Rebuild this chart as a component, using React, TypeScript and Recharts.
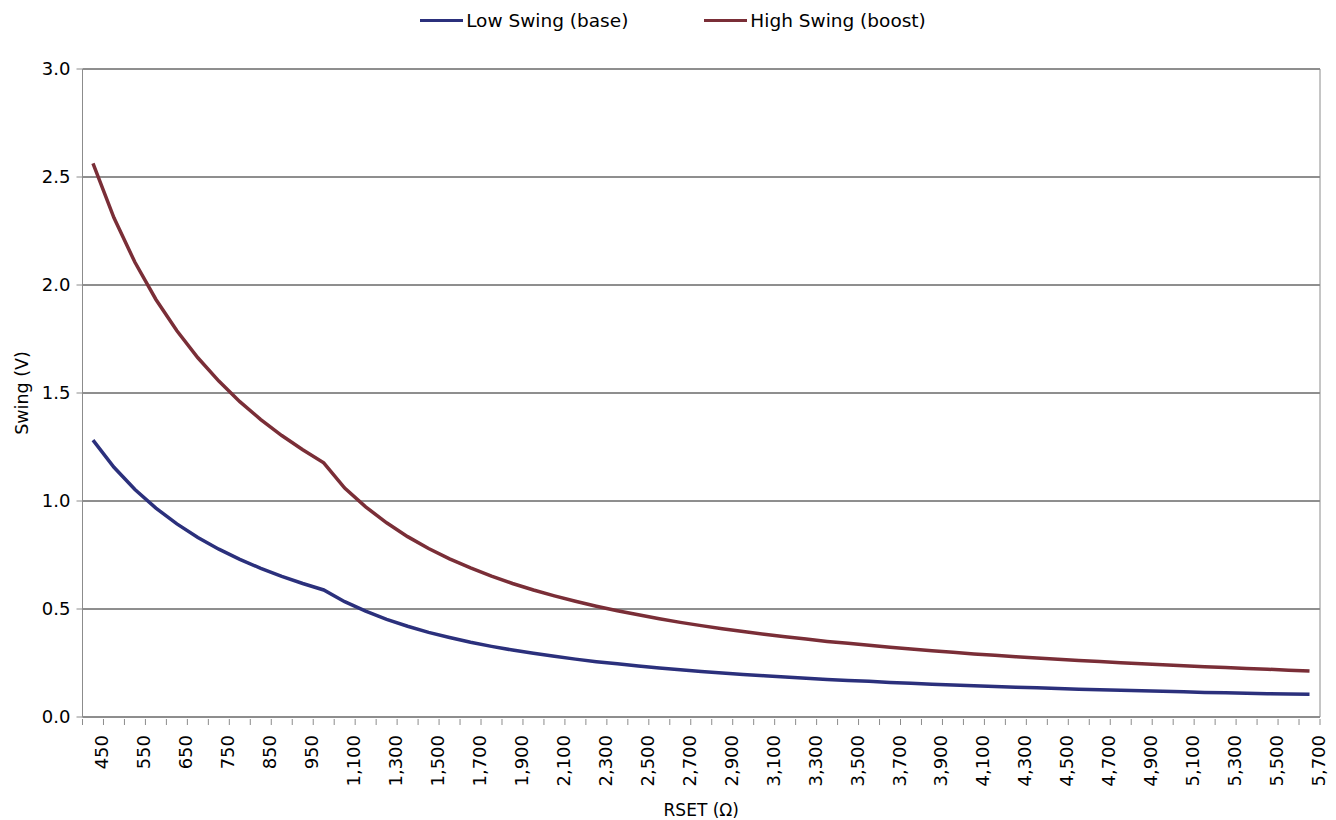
import { CartesianGrid, Legend, Line, LineChart, XAxis, YAxis } from "recharts";

const rset = [
  450, 500, 550, 600, 650, 700, 750, 800, 850, 900, 950, 1000, 1100, 1200,
  1300, 1400, 1500, 1600, 1700, 1800, 1900, 2000, 2100, 2200, 2300, 2400,
  2500, 2600, 2700, 2800, 2900, 3000, 3100, 3200, 3300, 3400, 3500, 3600,
  3700, 3800, 3900, 4000, 4100, 4200, 4300, 4400, 4500, 4600, 4700, 4800,
  4900, 5000, 5100, 5200, 5300, 5400, 5500, 5600, 5700,
];

const lowSwing = [
  1.282, 1.156, 1.053, 0.967, 0.894, 0.831, 0.777, 0.73, 0.688, 0.651, 0.618,
  0.588, 0.534, 0.49, 0.452, 0.42, 0.392, 0.368, 0.346, 0.327, 0.31, 0.295,
  0.281, 0.268, 0.256, 0.246, 0.236, 0.227, 0.219, 0.211, 0.204, 0.197, 0.191,
  0.185, 0.179, 0.174, 0.169, 0.165, 0.16, 0.156, 0.152, 0.148, 0.145, 0.141,
  0.138, 0.135, 0.132, 0.129, 0.126, 0.124, 0.121, 0.119, 0.117, 0.114, 0.112,
  0.11, 0.108, 0.106, 0.105,
];

const highSwing = [
  2.563, 2.311, 2.105, 1.933, 1.788, 1.663, 1.555, 1.46, 1.377, 1.303, 1.237,
  1.177, 1.06, 0.973, 0.899, 0.835, 0.78, 0.732, 0.69, 0.652, 0.618, 0.588,
  0.561, 0.536, 0.513, 0.492, 0.473, 0.455, 0.438, 0.423, 0.409, 0.396, 0.383,
  0.372, 0.361, 0.35, 0.341, 0.332, 0.323, 0.315, 0.307, 0.3, 0.292, 0.286,
  0.279, 0.273, 0.267, 0.262, 0.257, 0.251, 0.247, 0.242, 0.237, 0.233, 0.229,
  0.225, 0.221, 0.217, 0.213,
];

const yTicks = [0, 0.5, 1, 1.5, 2, 2.5, 3];

const data = rset.map((r, i) => ({ r, low: lowSwing[i], high: highSwing[i] }));

const W = 1336;
const H = 820;
const Y_AXIS_W = 82.5;
const RIGHT_W = 16;
const BAND = (W - Y_AXIS_W - RIGHT_W) / rset.length;

const BLUE = "#2b307c";
const RED = "#7a2e37";
const AXIS = "#8c8c8c";
const GRID = "#1e1e1e";
const FONT = "DejaVu Sans";

const XTick = (props: any) => {
  const { x, y, payload, index } = props;
  const half = BAND / 2;
  const lx = x + 9;
  const ly = y + 16;
  return (
    <g>
      <line x1={x + half} y1={y} x2={x + half} y2={y + 6} stroke={AXIS} />
      {index === 0 && (
        <line x1={x - half} y1={y} x2={x - half} y2={y + 6} stroke={AXIS} />
      )}
      {index % 2 === 0 && (
        <text
          x={lx}
          y={ly}
          transform={`rotate(-90 ${lx} ${ly})`}
          textAnchor="end"
          dominantBaseline="central"
          fontSize={18}
          fill="#000"
        >
          {Number(payload.value).toLocaleString("en-US")}
        </text>
      )}
    </g>
  );
};

const LegendBox = () => (
  <div
    style={{
      height: 36,
      display: "flex",
      justifyContent: "center",
      alignItems: "center",
      gap: 76,
      paddingLeft: 10,
      fontSize: 18.5,
      color: "#000",
    }}
  >
    {[
      { name: "Low Swing (base)", color: BLUE },
      { name: "High Swing (boost)", color: RED },
    ].map((it) => (
      <div key={it.name} style={{ display: "flex", alignItems: "center" }}>
        <div style={{ width: 43, height: 3, background: it.color, marginRight: 3 }} />
        <span>{it.name}</span>
      </div>
    ))}
  </div>
);

export default function App() {
  return (
    <div style={{ position: "absolute", left: 0, top: 0, fontFamily: FONT }}>
      <LineChart
        width={W}
        height={H}
        data={data}
        margin={{ top: 33, right: 0, bottom: 0, left: 0 }}
      >
        <CartesianGrid vertical={false} stroke={GRID} strokeWidth={1} />
        <Legend
          verticalAlign="top"
          content={() => <LegendBox />}
          wrapperStyle={{ top: 2, left: 0, width: W }}
        />
        <XAxis
          dataKey="r"
          scale="band"
          interval={0}
          height={103}
          tickSize={0}
          tickLine={false}
          axisLine={{ stroke: AXIS }}
          tick={<XTick />}
          label={{
            value: "RSET (Ω)",
            position: "insideBottom",
            offset: 4,
            fontSize: 17,
            fill: "#000",
          }}
        />
        <YAxis
          width={Y_AXIS_W}
          domain={[0, 3]}
          ticks={yTicks}
          tickFormatter={(v: number) => v.toFixed(1)}
          tickSize={6}
          tickMargin={6}
          tick={{ fontSize: 18, fill: "#000" }}
          axisLine={{ stroke: AXIS }}
          tickLine={{ stroke: AXIS }}
          label={{
            value: "Swing (V)",
            angle: -90,
            position: "insideLeft",
            offset: 22,
            fontSize: 17.5,
            fill: "#000",
            style: { textAnchor: "middle" },
          }}
        />
        <YAxis
          yAxisId="r"
          orientation="right"
          width={RIGHT_W}
          domain={[0, 3]}
          tick={false}
          tickLine={false}
          axisLine={{ stroke: AXIS }}
        />
        <Line
          type="linear"
          dataKey="low"
          stroke={BLUE}
          strokeWidth={3.5}
          dot={false}
          isAnimationActive={false}
        />
        <Line
          type="linear"
          dataKey="high"
          stroke={RED}
          strokeWidth={3.5}
          dot={false}
          isAnimationActive={false}
        />
      </LineChart>
    </div>
  );
}
